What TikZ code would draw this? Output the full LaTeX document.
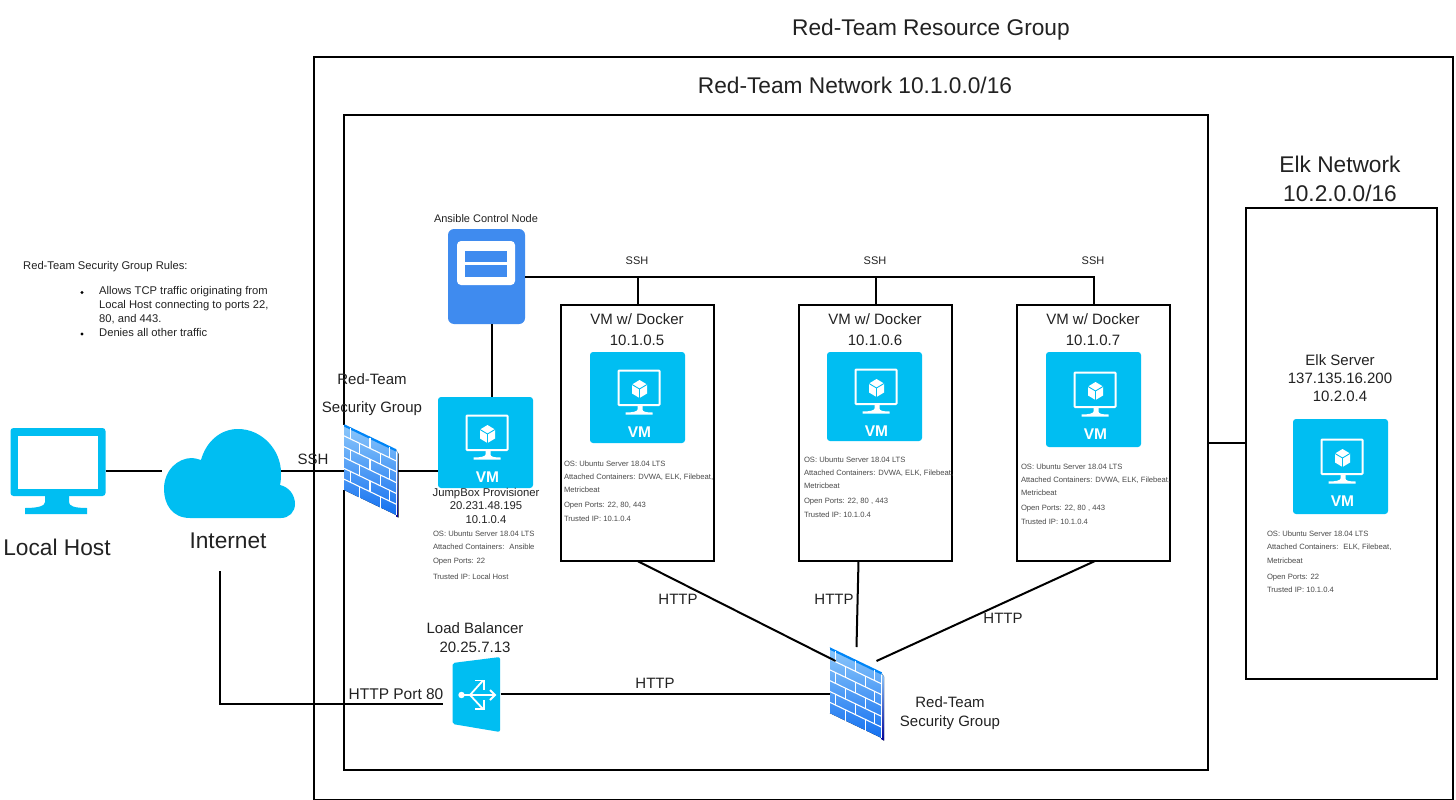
\documentclass[tikz,border=0pt]{standalone}
\usepackage{fontspec}
\setmainfont{Liberation Sans}
\definecolor{cy}{HTML}{00BEF2}
\definecolor{ans}{HTML}{3F8BEF}
\definecolor{smallgray}{HTML}{4A4A4A}
\definecolor{txt}{HTML}{222222}
\definecolor{fwtop}{HTML}{8CC8FB}
\definecolor{fwmid}{HTML}{5CA6F6}
\definecolor{fwbot}{HTML}{1470F0}
\newcommand\fsz[1]{\fontsize{#1}{#1}\selectfont}
\tikzset{
  line/.style={draw=black,line width=2pt},
  box/.style={draw=black,line width=2pt,fill=none,inner sep=0pt,outer sep=0pt},
  lab/.style={inner sep=0pt,outer sep=0pt,text=txt,align=center,font=\fsz{15}},
  big/.style={lab,font=\fsz{22.7}},
  mid/.style={lab,font=\fsz{15}},
  tiny/.style={lab,font=\fsz{11}},
  small/.style={inner sep=0pt,outer sep=0pt,anchor=north west,align=left,text=smallgray,font=\fontsize{7.65}{13.3}\selectfont},
  vmbox/.style={fill=cy,rounded corners=3pt,inner sep=0pt,outer sep=0pt,minimum width=95pt},
  ghost/.style={inner sep=0pt,outer sep=0pt}
}
\newcommand\vmicon[4]{%
  \node[vmbox,minimum height=#4pt] (#1) at (#2,#3) {};
  \begin{scope}[shift={(#1.center)}]
    \draw[white,line width=2pt,rounded corners=0.8pt] (-19,-27) rectangle (22,7.5);
    \fill[white] (0,7) -- (5,7) -- (5,12) .. controls (5,14) and (8,15) .. (15,15) -- (15,17) -- (-12,17) -- (-12,15) .. controls (-5,15) and (0,14) .. (0,12) -- cycle;
    \fill[white] (2,-17.5) -- (9.5,-13) -- (9.5,-4) -- (2,0.5) -- (-5.5,-4) -- (-5.5,-13) -- cycle;
    \draw[cy,line width=0.9pt] (-5.5,-13) -- (2,-8.5) -- (9.5,-13) (2,-8.5) -- (2,0.5);
    \node[inner sep=0pt,text=white,font=\bfseries\fsz{15.5}] (#1l) at (2,35) {VM};
  \end{scope}}
\newcommand\firewall[3]{% name, x, y of top-left corner
  \node[ghost,minimum width=52pt,minimum height=90pt,anchor=north west] (#1) at (#2,#3) {};
  \begin{scope}[shift={(#2,#3)},x={(52pt,-25pt)},y={(0pt,-65pt)}]
    \fill[top color=fwtop,middle color=fwmid,bottom color=fwbot] (0,0) -- (1,0) -- (1,1) -- (0,1) -- cycle;
    \fill[top color=fwtop,bottom color=blue!60!black] (1,0) -- (1,1) -- (1,1.02) -- (1.05,1.02) -- (1.05,0.04) -- cycle;
    \draw[cy!70!blue,line width=2.2pt] (0,0.005) -- (1,0.005);
    \draw[white,line width=1.1pt] (-0.01,0) -- (-0.01,1);
    \foreach \k in {1,...,5} \draw[white,line width=1.1pt] (0,\k/6) -- (1,\k/6);
    \foreach \k in {0,2,4} {
      \foreach \u in {0.12,0.5,0.87} \draw[white,line width=1.1pt] (\u,\k/6) -- (\u,\k/6+1/6);
      \foreach \u in {0.3,0.7} \draw[white,line width=1.1pt] (\u,\k/6+1/6) -- (\u,\k/6+2/6);
    }
    \draw[white,line width=1pt] (1,0.03) -- (1,1);
  \end{scope}}
\begin{document}
\begin{tikzpicture}[x=1pt,y=-1pt]
\useasboundingbox (0,0) rectangle (1456,800);
\fill[white] (0,0) rectangle (1456,800);

% containers
\node[box,minimum width=1139pt,minimum height=742pt,anchor=north west] (outer) at (314,57.5) {};
\node[box,minimum width=864pt,minimum height=655pt,anchor=north west] (net) at (343.5,115) {};
\node[box,minimum width=191pt,minimum height=471pt,anchor=north west] (elknet) at (1245.5,207.5) {};
\node[box,minimum width=153pt,minimum height=256pt,anchor=north west] (d1) at (561,305) {};
\node[box,minimum width=153pt,minimum height=256pt,anchor=north west] (d2) at (799,305) {};
\node[box,minimum width=153pt,minimum height=256pt,anchor=north west] (d3) at (1017,305) {};

% Ansible
\node[fill=ans,rounded corners=6pt,inner sep=0pt,outer sep=0pt,minimum width=77pt,minimum height=95pt,anchor=north west] (ansible) at (448,229) {};
\fill[white,rounded corners=4pt] (457,241) rectangle (515,285);
\fill[ans] (465,251) rectangle (507,262);
\fill[ans] (465,265) rectangle (507,277);

% VMs
\vmicon{jump}{485.5}{442.5}{91}
\vmicon{vm1}{637.5}{397.5}{91}
\vmicon{vm2}{874.5}{396.5}{89}
\vmicon{vm3}{1093.5}{399.5}{95}
\vmicon{vm4}{1340.5}{466.5}{95}

% Local host monitor
\node[ghost,minimum width=95pt,minimum height=68pt,anchor=north west] (host) at (10.5,428) {};
\fill[cy,rounded corners=3pt] (10.5,428) rectangle (105.5,496);
\fill[white] (17.5,436) rectangle (98,489);
\fill[cy] (45,495) -- (69,495) -- (69,502) .. controls (69,506) and (74,508) .. (87,508) -- (87,514) -- (25,514) -- (25,508) .. controls (38,508) and (45,506) .. (45,502) -- cycle;

% Cloud
\node[ghost,minimum width=131pt,minimum height=89pt,anchor=north west] (cloud) at (164,429) {};
\fill[cy] (190,518) .. controls (172,518) and (164,504) .. (164,489)
  .. controls (164,470) and (178,458) .. (192,458) .. controls (195,458) and (197,459) .. (201,460)
  .. controls (206,442) and (220,429) .. (238,429) .. controls (262,429) and (281,450) .. (281,473)
  .. controls (281,476) and (281,481) .. (280,485) .. controls (289,487) and (295,495) .. (295,504)
  .. controls (295,512) and (289,518) .. (281,518) -- cycle;

% Firewalls
\firewall{fw1}{344}{425}
\firewall{fw2}{829.5}{648}

% Load balancer
\node[ghost,minimum width=48pt,minimum height=75pt,anchor=north west] (lb) at (452.5,657) {};
\fill[cy,rounded corners=2pt] (452.5,663) -- (500,657) -- (500,732) -- (452.5,724) -- cycle;
\begin{scope}[white,line width=1.8pt]
\fill (461.5,695) circle (3.2pt);
\draw (461.5,695) -- (495,695);
\draw (490,690) -- (495,695) -- (490,700);
\draw (470,695) -- (483,680.5);
\draw (475,680.5) -- (484,680.5) -- (484,690);
\draw (470,695) -- (483,709);
\draw (475,709) -- (484,709) -- (484,700);
\end{scope}

% connectors
\coordinate (inetdrop) at (220,571);
\coordinate (inetcorner) at (220,704);
\coordinate (lbin) at (443,704);
\draw[line] ([yshift=-43pt]host.north east) -- ([yshift=-42pt,xshift=-2pt]cloud.north west);
\draw[line] ([xshift=-14pt,yshift=-42pt]cloud.north east) -- ([yshift=-46pt]fw1.north west);
\draw[line] ([xshift=2pt,yshift=-46pt]fw1.north east) -- ([yshift=-74pt]jump.north west);
\draw[line] ([xshift=5pt]ansible.south) -- ([xshift=6pt]jump.north);
\draw[line] (ansible.east) -- (ansible.east -| d3.north) -- (d3.north);
\draw[line] (ansible.east -| d1.north) -- (d1.north);
\draw[line] (ansible.east -| d2.north) -- (d2.north);
\draw[line] (inetdrop) -- (inetcorner) -- (lbin);
\draw[line] ([yshift=-37pt]lb.north east) -- ([yshift=-46pt]fw2.north west);
\draw[line] (d1.south) -- ([xshift=6pt,yshift=-13pt]fw2.north west);
\draw[line] ([xshift=-17pt]d2.south) -- ([xshift=27pt,yshift=1pt]fw2.north west);
\draw[line] ([xshift=1.5pt]d3.south) -- ([xshift=47pt,yshift=-13pt]fw2.north west);
\draw[line] (net.east |- elknet.west) -- (elknet.west);

% Titles
\node[big] (t1) at (931,30) {Red-Team Resource Group};
\node[big] (t2) at (855,85) {Red-Team Network 10.1.0.0/16};
\node[big,align=center] (t3) at (1340,179) {Elk Network\\[6pt]10.2.0.0/16};

\node[tiny] (t4) at (486,218.5) {Ansible Control Node};
\node[tiny] (s1) at (637,260.5) {SSH};
\node[tiny] (s2) at (875,260.5) {SSH};
\node[tiny] (s3) at (1093,260.5) {SSH};

\node[mid,font=\fontsize{15}{21}\selectfont] (l1) at (637,329.5) {VM w/ Docker\\10.1.0.5};
\node[mid,font=\fontsize{15}{21}\selectfont] (l2) at (875,329.5) {VM w/ Docker\\10.1.0.6};
\node[mid,font=\fontsize{15}{21}\selectfont] (l3) at (1093,329.5) {VM w/ Docker\\10.1.0.7};
\node[mid,font=\fontsize{15}{18}\selectfont] (l4) at (1340,378) {Elk Server\\137.135.16.200\\10.2.0.4};
\node[lab,font=\fontsize{11.3}{13.5}\selectfont] (l5) at (486,505.5) {JumpBox Provisioner\\20.231.48.195\\10.1.0.4};

\node[mid,font=\fontsize{15}{28}\selectfont] (l6) at (372,395) {Red-Team\\Security Group};
\node[mid] (l7) at (313,459) {SSH};
\node[big] (l8) at (57,547) {Local Host};
\node[big] (l9) at (228,541) {Internet};
\node[lab,font=\fsz{15.5}] (l10) at (396,694) {HTTP Port 80};
\node[mid,font=\fontsize{15}{19}\selectfont] (l11) at (475,638) {Load Balancer\\20.25.7.13};
\node[mid] (h2) at (678,599) {HTTP};
\node[mid] (h3) at (834,599) {HTTP};
\node[mid] (h4) at (1003,618) {HTTP};
\node[mid] (h5) at (655,683) {HTTP};
\node[mid,font=\fontsize{15}{19}\selectfont] (l12) at (950,713.5) {Red-Team\\Security Group};

% Rules
\node[inner sep=0pt,anchor=west,text=txt,font=\fsz{11.2}] (r0) at (23,267) {Red-Team Security Group Rules:};
\node[inner sep=0pt,anchor=north west,align=left,text=txt,font=\fontsize{11.2}{14}\selectfont] (r1) at (99,286.5) {Allows TCP traffic originating from\\Local Host connecting to ports 22,\\80, and 443.\\Denies all other traffic};
\fill[black] (82,292.5) circle (1.7pt);
\fill[black] (82,334) circle (1.7pt);

% Details
\node[small] (i1) at (433,531) {OS: Ubuntu Server 18.04 LTS\\Attached Containers:~ Ansible\\Open Ports: 22\\[3pt]Trusted IP: Local Host};
\node[small] (i2) at (564,460.5) {OS: Ubuntu Server 18.04 LTS\\Attached Containers: DVWA, ELK, Filebeat,\\Metricbeat\\[2pt]Open Ports: 22, 80, 443\\Trusted IP: 10.1.0.4};
\node[small] (i3) at (804,456.5) {OS: Ubuntu Server 18.04 LTS\\Attached Containers: DVWA, ELK, Filebeat,\\Metricbeat\\[2pt]Open Ports: 22, 80 , 443\\Trusted IP: 10.1.0.4};
\node[small] (i4) at (1021,463.5) {OS: Ubuntu Server 18.04 LTS\\Attached Containers: DVWA, ELK, Filebeat,\\Metricbeat\\[2pt]Open Ports: 22, 80 , 443\\Trusted IP: 10.1.0.4};
\node[small] (i5) at (1267,531) {OS: Ubuntu Server 18.04 LTS\\Attached Containers:~ ELK, Filebeat,\\Metricbeat\\[3pt]Open Ports: 22\\Trusted IP: 10.1.0.4};
\end{tikzpicture}
\end{document}
